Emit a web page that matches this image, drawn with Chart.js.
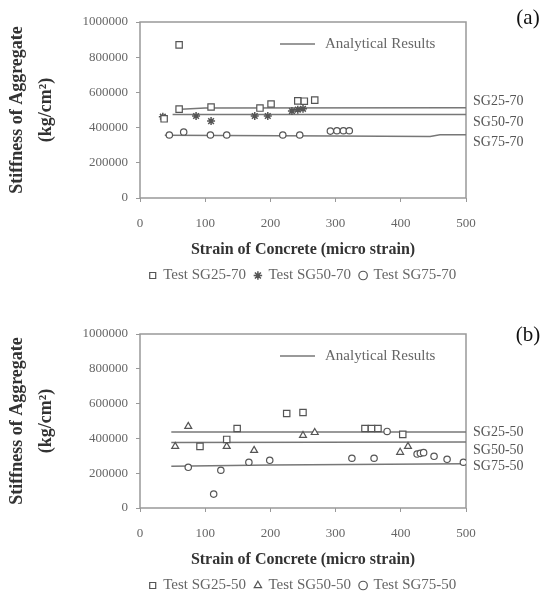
<!DOCTYPE html>
<html>
<head>
<meta charset="utf-8">
<script src="https://cdn.jsdelivr.net/npm/chart.js@4.4.1/dist/chart.umd.min.js"></script>
<style>
  html, body { margin: 0; padding: 0; background: #fff; }
  #wrap { position: relative; width: 546px; height: 603px; }
  .panel { position: absolute; left: 0; width: 546px; }
</style>
</head>
<body>
<div id="wrap">
  <div class="panel" style="top:0;height:300px"><canvas id="chartA" width="546" height="300"></canvas></div>
  <div class="panel" style="top:300px;height:303px"><canvas id="chartB" width="546" height="303"></canvas></div>
</div>
<script>
// axis ranges
const strainRange = [0, 500];
const stiffRange = [0, 1000000];

// panel (a) - aggregate 70
const testSG25_70 = [[37, 450000], [60, 870000], [60, 505000], [109, 517000], [184, 511000], [201, 534000], [242, 552000], [252, 550000], [268, 556000]];
const testSG50_70 = [[35, 462000], [86, 466000], [109, 437000], [176, 466000], [196, 466000], [233, 494000], [242, 502000], [250, 507000]];
const testSG75_70 = [[45, 358000], [67, 375000], [108, 358000], [133, 358000], [219, 358000], [245, 358000], [292, 380000], [302, 382000], [312, 382000], [321, 382000]];
const lineSG25_70 = [[55, 503000], [100, 512000], [500, 513000]];
const lineSG50_70 = [[50, 475000], [500, 475000]];
const lineSG75_70 = [[38, 357000], [300, 352000], [445, 350000], [460, 360000], [500, 360000]];

// panel (b) - aggregate 50
const testSG25_50 = [[92, 354000], [133, 394000], [149, 457000], [225, 543000], [250, 549000], [345, 457000], [355, 457000], [365, 457000], [403, 423000]];
const testSG50_50 = [[54, 354000], [74, 469000], [133, 354000], [175, 331000], [250, 417000], [268, 434000], [399, 320000], [411, 354000]];
const testSG75_50 = [[74, 234000], [113, 80000], [124, 217000], [167, 263000], [199, 274000], [325, 286000], [359, 286000], [379, 440000], [425, 310000], [430, 314000], [435, 318000], [451, 297000], [471, 280000], [496, 263000]];
const lineSG25_50 = [[48, 437000], [500, 437000]];
const lineSG50_50 = [[48, 377000], [500, 380000]];
const lineSG75_50 = [[48, 240000], [200, 247000], [500, 255000]];

Chart.defaults.font.family = "'Liberation Serif', 'Times New Roman', serif";

const toXY = arr => arr.map(p => ({ x: p[0], y: p[1] }));

const framePlugin = {
  id: 'frame',
  beforeDatasetsDraw(chart) {
    const a = chart.chartArea, ctx = chart.ctx;
    ctx.save();
    ctx.strokeStyle = '#999';
    ctx.lineWidth = 1.5;
    ctx.strokeRect(a.left, a.top, a.right - a.left, a.bottom - a.top);
    ctx.restore();
  }
};

const sideLabels = {
  id: 'sideLabels',
  afterDraw(chart) {
    const ctx = chart.ctx;
    ctx.save();
    ctx.font = "14px 'Liberation Serif', serif";
    ctx.fillStyle = '#555';
    ctx.textBaseline = 'middle';
    chart.data.datasets.forEach((ds, i) => {
      if (!ds.sideLabel) return;
      const pts = chart.getDatasetMeta(i).data;
      const last = pts[pts.length - 1];
      ctx.fillText(ds.sideLabel, chart.chartArea.right + 7, last.y + ds.labelShift);
    });
    ctx.restore();
  }
};

const analyticKey = {
  id: 'analyticKey',
  afterDraw(chart, args, opts) {
    const a = chart.chartArea, ctx = chart.ctx;
    const y = a.top + 22;
    ctx.save();
    ctx.strokeStyle = '#777';
    ctx.lineWidth = 1.5;
    ctx.beginPath();
    ctx.moveTo(a.left + 140, y);
    ctx.lineTo(a.left + 175, y);
    ctx.stroke();
    ctx.font = "15px 'Liberation Serif', serif";
    ctx.fillStyle = '#666';
    ctx.textBaseline = 'middle';
    ctx.fillText(opts.text, a.left + 185, y);
    ctx.restore();
  }
};

const panelTag = {
  id: 'panelTag',
  afterDraw(chart, args, opts) {
    const ctx = chart.ctx;
    ctx.save();
    ctx.font = "21px 'Liberation Serif', serif";
    ctx.fillStyle = '#111';
    ctx.textAlign = 'center';
    ctx.textBaseline = 'middle';
    ctx.fillText(opts.text, 528, opts.y);
    ctx.restore();
  }
};

function testSet(label, pts, style) {
  return {
    label: label,
    data: toXY(pts),
    isTest: true,
    pointStyle: style,
    pointRadius: style === 'rect' ? 4.5 : (style === 'circle' ? 3.2 : 4),
    borderColor: '#555',
    backgroundColor: style === 'star' ? '#555' : '#fff',
    borderWidth: style === 'star' ? 1.5 : 1.2,
    showLine: false
  };
}

function lineSet(label, pts, shift) {
  return {
    label: label,
    data: toXY(pts),
    sideLabel: label,
    labelShift: shift,
    showLine: true,
    pointRadius: 0,
    borderColor: '#777',
    borderWidth: 1.5,
    tension: 0
  };
}

function buildPanel(id, p) {
  return new Chart(document.getElementById(id), {
    type: 'scatter',
    data: {
      datasets: [
        testSet('Test ' + p.names[0], p.tests[0], 'rect'),
        testSet('Test ' + p.names[1], p.tests[1], p.midStyle),
        testSet('Test ' + p.names[2], p.tests[2], 'circle'),
        lineSet(p.names[0], p.lines[0], p.shifts[0]),
        lineSet(p.names[1], p.lines[1], p.shifts[1]),
        lineSet(p.names[2], p.lines[2], p.shifts[2])
      ]
    },
    options: {
      responsive: false,
      animation: false,
      layout: { padding: { top: p.padTop, right: 80, bottom: p.padBottom, left: 0 } },
      plugins: {
        legend: {
          position: 'bottom',
          fullSize: false,
          labels: {
            filter: (item, data) => data.datasets[item.datasetIndex].isTest,
            usePointStyle: true,
            boxWidth: 6,
            boxHeight: 6,
            padding: 9,
            color: '#666',
            font: { size: 15 }
          }
        },
        tooltip: { enabled: false },
        analyticKey: { text: 'Analytical Results' },
        panelTag: { text: p.tag, y: p.tagY }
      },
      scales: {
        x: {
          type: 'linear',
          min: strainRange[0],
          max: strainRange[1],
          ticks: { stepSize: 100, padding: 14, color: '#666', font: { size: 13 } },
          grid: { drawOnChartArea: false, tickLength: 4, color: '#999' },
          border: { display: false },
          title: {
            display: true,
            text: 'Strain of Concrete (micro strain)',
            color: '#333',
            font: { size: 16, weight: 'bold' },
            padding: 0
          },
          afterFit: s => { s.height = 61; }
        },
        y: {
          min: stiffRange[0],
          max: stiffRange[1],
          ticks: { stepSize: 200000, padding: 8, color: '#666', font: { size: 13 }, callback: v => String(v) },
          grid: { drawOnChartArea: false, tickLength: 4, color: '#999' },
          border: { display: false },
          title: {
            display: true,
            text: ['Stiffness of Aggregate', '(kg/cm²)'],
            color: '#333',
            font: { size: 18, weight: 'bold', lineHeight: 1.6 },
            padding: { top: 3, bottom: 0 }
          },
          afterFit: s => { s.width = 140; }
        }
      }
    },
    plugins: [framePlugin, sideLabels, analyticKey, panelTag]
  });
}

buildPanel('chartA', {
  names: ['SG25-70', 'SG50-70', 'SG75-70'],
  tests: [testSG25_70, testSG50_70, testSG75_70],
  lines: [lineSG25_70, lineSG50_70, lineSG75_70],
  shifts: [-6, 8, 8],
  midStyle: 'star',
  padTop: 22,
  padBottom: 7,
  tag: '(a)',
  tagY: 18
});

buildPanel('chartB', {
  names: ['SG25-50', 'SG50-50', 'SG75-50'],
  tests: [testSG25_50, testSG50_50, testSG75_50],
  lines: [lineSG25_50, lineSG50_50, lineSG75_50],
  shifts: [0, 8, 3],
  midStyle: 'triangle',
  padTop: 34,
  padBottom: 0,
  tag: '(b)',
  tagY: 35
});
</script>
</body>
</html>
